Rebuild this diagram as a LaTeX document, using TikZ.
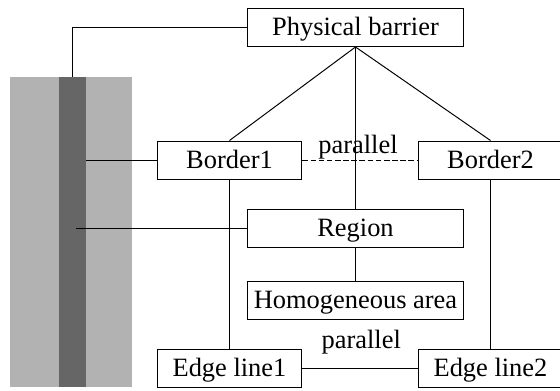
\documentclass[tikz,border=0pt]{standalone}
\usepackage{fontspec}
\setmainfont{Liberation Serif}
\tikzset{
  label/.style={font=\fontsize{18.8}{22}\selectfont, inner sep=0pt},
  box/.style={label, draw, line width=0.7pt, minimum height=0.95cm, text height=14pt, text depth=2.6pt},
  widebox/.style={box, minimum width=5.42cm},
  narrowbox/.style={box, minimum width=3.62cm},
  link/.style={line width=0.7pt}
}

\begin{document}
\begin{tikzpicture}
  \useasboundingbox (0, 0) rectangle (14, 9.75);

  \node[fill={rgb,255:red,178;green,178;blue,178}, minimum width=3.05cm, minimum height=7.75cm, inner sep=0pt] (strip) at (1.775, 3.95) {};
  \node[fill={rgb,255:red,102;green,102;blue,102}, minimum width=0.675cm, minimum height=7.75cm, inner sep=0pt] (core) at (1.8125, 3.95) {};
  \coordinate (coreend) at (1.9, 4.05);

  \node[widebox] (barrier) at (8.8875, 9.0625) {Physical barrier};
  \node[narrowbox] (border1) at (5.7375, 5.75) {Border1};
  \node[narrowbox] (border2) at (12.2625, 5.75) {Border2};
  \node[widebox] (region) at (8.8875, 4.05) {Region};
  \node[widebox] (area) at (8.8875, 2.25) {Homogeneous area};
  \node[narrowbox] (edge1) at (5.7375, 0.55) {Edge line1};
  \node[narrowbox] (edge2) at (12.2625, 0.55) {Edge line2};

  \node[label, anchor=base] (parallel1) at (8.95, 5.92) {parallel};
  \node[label, anchor=base] (parallel2) at (9.03, 1.03) {parallel};

  \draw[link] (core.north) |- (barrier.west);
  \draw[link] (border1.west) -- (border1.west -| core.east);
  \draw[link] (region.west) -- (coreend);

  \draw[link] (barrier.south) -- (border1.north);
  \draw[link] (barrier.south) -- (border2.north);
  \draw[link] (barrier.south) -- (region.north);
  \draw[link] (region.south) -- (area.north);
  \draw[link] (border1.south) -- (edge1.north);
  \draw[link] (border2.south) -- (edge2.north);
  \draw[link] (edge1.east) -- (edge2.west);
  \draw[link, dash pattern=on 4pt off 1.8pt] (border1.east) -- (border2.west);
\end{tikzpicture}
\end{document}
